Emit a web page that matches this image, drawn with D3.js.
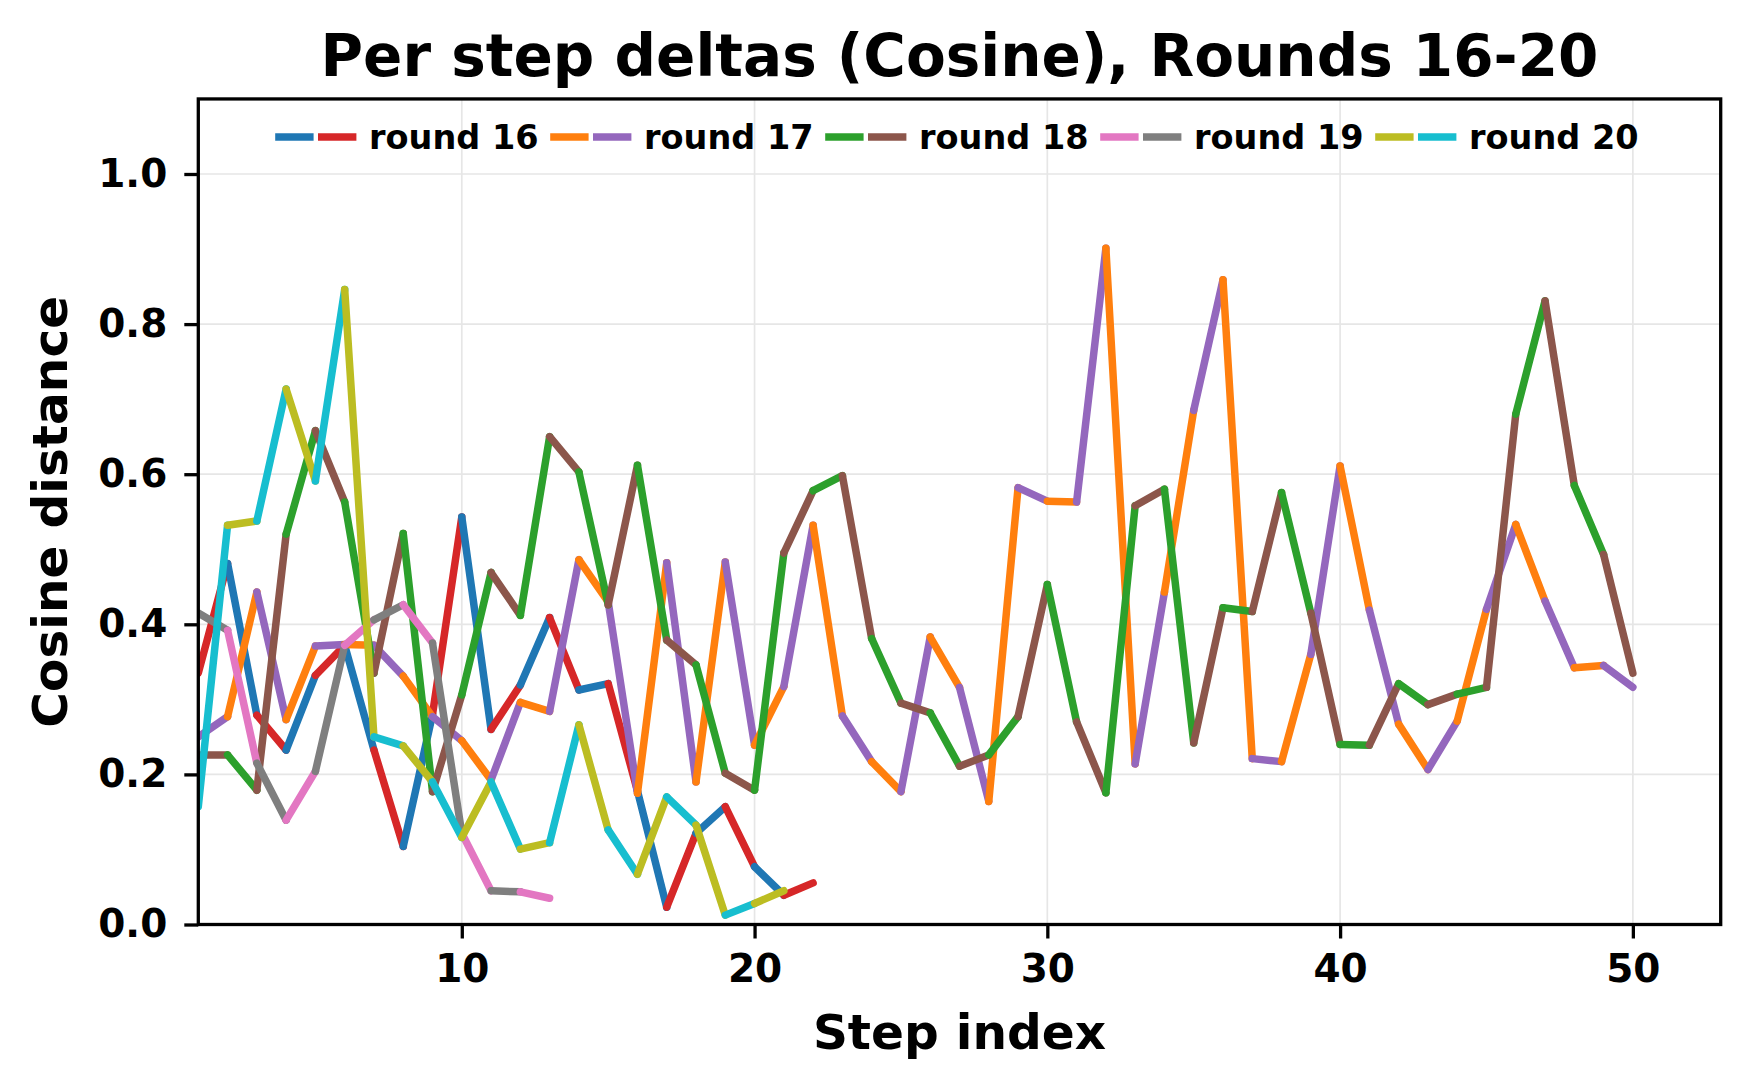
<!DOCTYPE html>
<html>
<head>
<meta charset="utf-8">
<script src="https://cdn.jsdelivr.net/npm/d3@7/dist/d3.min.js"></script>
<style>
  html, body { margin: 0; padding: 0; background: #fff; }
  svg { display: block; }
</style>
</head>
<body>
<svg id="chart" width="1750" height="1088"></svg>
<script>
// ── data: cosine distance per step, one array per round (step 1 first) ──
var rounds = ['round 16', 'round 17', 'round 18', 'round 19', 'round 20'];

var round16 = [0.335, 0.481, 0.279, 0.2325, 0.332, 0.372, 0.2325, 0.104, 0.28, 0.543,
               0.26, 0.319, 0.409, 0.3125, 0.321, 0.178, 0.023, 0.1215, 0.157, 0.077,
               0.039, 0.0555];

var round17 = [0.25, 0.277, 0.443, 0.273, 0.371, 0.373, 0.372, 0.331, 0.277, 0.245,
               0.1925, 0.296, 0.284, 0.486, 0.43, 0.175, 0.482, 0.19, 0.483, 0.239,
               0.317, 0.532, 0.278, 0.217, 0.177, 0.383, 0.316, 0.164, 0.582, 0.564,
               0.563, 0.901, 0.214, 0.443, 0.685, 0.859, 0.221, 0.217, 0.36, 0.611,
               0.419, 0.267, 0.2065, 0.271, 0.42, 0.533, 0.431, 0.342, 0.345, 0.316];

var round18 = [0.226, 0.226, 0.179, 0.52, 0.658, 0.563, 0.335, 0.521, 0.177, 0.306,
               0.469, 0.412, 0.65, 0.603, 0.426, 0.612, 0.379, 0.346, 0.2015, 0.179,
               0.495, 0.578, 0.598, 0.381, 0.295, 0.282, 0.211, 0.226, 0.277, 0.453,
               0.27, 0.1755, 0.558, 0.58, 0.242, 0.422, 0.417, 0.5755, 0.415, 0.24,
               0.239, 0.321, 0.293, 0.307, 0.316, 0.68, 0.831, 0.585, 0.493, 0.335];

var round19 = [0.415, 0.392, 0.215, 0.139, 0.204, 0.372, 0.406, 0.426, 0.375, 0.1215,
               0.045, 0.0435, 0.035];

var round20 = [0.157, 0.532, 0.5376, 0.7135, 0.591, 0.846, 0.25, 0.238, 0.19, 0.116,
               0.19, 0.1005, 0.109, 0.266, 0.126, 0.067, 0.17, 0.1326, 0.0125, 0.028,
               0.045];

// each round alternates two colours segment by segment
var colorPairs = [['#1f77b4', '#d62728'],
                  ['#ff7f0e', '#9467bd'],
                  ['#2ca02c', '#8c564b'],
                  ['#e377c2', '#7f7f7f'],
                  ['#bcbd22', '#17becf']];

var xTicks = [10, 20, 30, 40, 50];
var yTicks = [0, 0.2, 0.4, 0.6, 0.8, 1.0];

(function () {
    // ── geometry ─────────────────────────────────────────────────────────
    var W = 1750, H = 1088;
    var pL = 198.3, pR = 1720.7, pB = 924.5, pT = pB - 1.1 * 750.5;
    var font = '"DejaVu Sans", sans-serif';

    var x = d3.scaleLinear().domain([1, 53]).range([pL, pR]);
    var y = d3.scaleLinear().domain([0, 1.1]).range([pB, pT]);

    var svg = d3.select('#chart');
    svg.append('rect').attr('width', W).attr('height', H).attr('fill', '#fff');

    svg.append('defs').append('clipPath').attr('id', 'plot')
        .append('rect')
        .attr('x', pL).attr('y', pT)
        .attr('width', pR - pL).attr('height', pB - pT);

    // ── grid ─────────────────────────────────────────────────────────────
    var grid = svg.append('g');
    xTicks.forEach(function (t) {
        grid.append('line')
            .attr('x1', x(t)).attr('x2', x(t)).attr('y1', pT).attr('y2', pB)
            .attr('stroke', '#e6e6e6').attr('stroke-width', 1.7);
    });
    yTicks.forEach(function (t) {
        grid.append('line')
            .attr('x1', pL).attr('x2', pR).attr('y1', y(t)).attr('y2', y(t))
            .attr('stroke', '#e6e6e6').attr('stroke-width', 1.7);
    });

    // ── lines, drawn one segment at a time ───────────────────────────────
    var series = [round16, round17, round18, round19, round20];
    var lines = svg.append('g').attr('clip-path', 'url(#plot)');
    series.forEach(function (vals, ri) {
        for (var i = 0; i < vals.length - 1; i++) {
            var step = i + 1;
            lines.append('line')
                .attr('x1', x(step)).attr('y1', y(vals[i]))
                .attr('x2', x(step + 1)).attr('y2', y(vals[i + 1]))
                .attr('stroke', colorPairs[ri][step % 2 === 1 ? 1 : 0])
                .attr('stroke-width', 7.5)
                .attr('stroke-linecap', 'round');
        }
    });

    // ── axes ─────────────────────────────────────────────────────────────
    var xAxis = svg.append('g').attr('transform', 'translate(0,' + pB + ')')
        .call(d3.axisBottom(x).tickValues(xTicks).tickSize(14).tickPadding(16)
            .tickFormat(d3.format('d')));
    var yAxis = svg.append('g').attr('transform', 'translate(' + pL + ',0)')
        .call(d3.axisLeft(y).tickValues(yTicks).tickSize(14).tickPadding(17)
            .tickFormat(d3.format('.1f')));

    [xAxis, yAxis].forEach(function (a) {
        a.select('.domain').remove();
        a.selectAll('.tick line').attr('stroke', '#000').attr('stroke-width', 3.3);
        a.selectAll('.tick text')
            .attr('fill', '#000')
            .attr('font-family', font).attr('font-weight', 'bold')
            .attr('font-size', '39px');
    });

    // frame
    svg.append('rect')
        .attr('x', pL).attr('y', pT)
        .attr('width', pR - pL).attr('height', pB - pT)
        .attr('fill', 'none').attr('stroke', '#000').attr('stroke-width', 3.3);

    // ── titles ───────────────────────────────────────────────────────────
    var cx = (pL + pR) / 2;
    svg.append('text')
        .attr('x', cx).attr('y', 76)
        .attr('text-anchor', 'middle')
        .attr('font-family', font).attr('font-weight', 'bold').attr('font-size', '58px')
        .text('Per step deltas (Cosine), Rounds 16-20');

    svg.append('text')
        .attr('x', cx).attr('y', 1049)
        .attr('text-anchor', 'middle')
        .attr('font-family', font).attr('font-weight', 'bold').attr('font-size', '48.6px')
        .text('Step index');

    svg.append('text')
        .attr('transform', 'translate(67,' + ((pT + pB) / 2) + ') rotate(-90)')
        .attr('text-anchor', 'middle')
        .attr('font-family', font).attr('font-weight', 'bold').attr('font-size', '48.6px')
        .text('Cosine distance');

    // ── legend ───────────────────────────────────────────────────────────
    var legend = svg.append('g');
    var legX0 = 275.2, legStep = 275, legY = 137;
    rounds.forEach(function (name, i) {
        var lx = legX0 + i * legStep;
        colorPairs[i].forEach(function (c, k) {
            legend.append('line')
                .attr('x1', lx + k * 42.8).attr('x2', lx + k * 42.8 + 38.4)
                .attr('y1', legY).attr('y2', legY)
                .attr('stroke', c).attr('stroke-width', 7.5);
        });
        legend.append('text')
            .attr('x', lx + 93.8).attr('y', 149)
            .attr('font-family', font).attr('font-weight', 'bold').attr('font-size', '33.5px')
            .text(name);
    });
})();
</script>
</body>
</html>
